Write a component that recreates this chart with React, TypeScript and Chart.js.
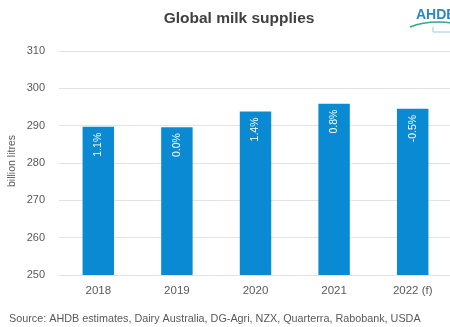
import React, { useEffect, useRef } from "react";
import { Chart, registerables } from "chart.js";

Chart.register(...registerables);

const categories = ["2018", "2019", "2020", "2021", "2022 (f)"];
const supplies = [289.7, 289.6, 293.8, 295.9, 294.5];
const growthLabels = ["1.1%", "0.0%", "1.4%", "0.8%", "-0.5%"];
const yTicks = [250, 260, 270, 280, 290, 300, 310];
const titleText = "Global milk supplies";
const yTitle = "billion litres";
const sourceText = "Source: AHDB estimates, Dairy Australia, DG-Agri, NZX, Quarterra, Rabobank, USDA";

const FONT = "'Liberation Sans', Arial, sans-serif";

const decorPlugin = {
  id: "decor",
  afterDraw(chart: any) {
    const ctx = chart.ctx;
    ctx.save();
    // title
    ctx.fillStyle = "#404040";
    ctx.font = `bold 15.5px ${FONT}`;
    ctx.textAlign = "center";
    ctx.textBaseline = "middle";
    ctx.fillText(titleText, 239, 19);

    // logo
    ctx.fillStyle = "#2f86c6";
    ctx.font = `bold 14px ${FONT}`;
    ctx.textAlign = "left";
    ctx.fillText("AHDB", 416, 15);
    ctx.strokeStyle = "#3aa58a";
    ctx.lineWidth = 1.5;
    ctx.beginPath();
    ctx.moveTo(410, 27);
    ctx.quadraticCurveTo(428, 20, 452, 23);
    ctx.stroke();
    ctx.strokeStyle = "#9cc9e8";
    ctx.lineWidth = 1;
    ctx.beginPath();
    ctx.moveTo(433, 27);
    ctx.lineTo(433, 32);
    ctx.lineTo(452, 32);
    ctx.stroke();

    // y title
    const area = chart.chartArea;
    ctx.save();
    ctx.translate(12, 161);
    ctx.rotate(-Math.PI / 2);
    ctx.fillStyle = "#595959";
    ctx.font = `10.5px ${FONT}`;
    ctx.textAlign = "center";
    ctx.textBaseline = "middle";
    ctx.fillText(yTitle, 0, 0);
    ctx.restore();

    // bar labels
    const meta = chart.getDatasetMeta(0);
    meta.data.forEach((bar: any, i: number) => {
      ctx.save();
      ctx.translate(bar.x, bar.y + 6);
      ctx.rotate(-Math.PI / 2);
      ctx.fillStyle = "#ffffff";
      ctx.font = `10.5px ${FONT}`;
      ctx.textAlign = "right";
      ctx.textBaseline = "middle";
      ctx.fillText(growthLabels[i], 0, 0);
      ctx.restore();
    });

    // source
    ctx.fillStyle = "#595959";
    ctx.font = `10.8px ${FONT}`;
    ctx.textAlign = "left";
    ctx.textBaseline = "middle";
    ctx.fillText(sourceText, 9, 319);
    ctx.restore();
  },
};

export default function App() {
  const ref = useRef<HTMLCanvasElement>(null);
  useEffect(() => {
    if (!ref.current) return;
    const chart = new Chart(ref.current, {
      type: "bar",
      data: {
        labels: categories,
        datasets: [
          {
            data: supplies,
            backgroundColor: "#0a8ad2",
            barPercentage: 0.4,
            categoryPercentage: 1,
          },
        ],
      },
      options: {
        animation: false,
        responsive: false,
        maintainAspectRatio: false,
        layout: { padding: { top: 51, bottom: 0, left: 0, right: 0 } },
        plugins: { legend: { display: false }, tooltip: { enabled: false } },
        scales: {
          x: {
            grid: { display: false, drawTicks: false },
            border: { display: false },
            ticks: {
              color: "#595959",
              font: { family: FONT, size: 11.5 },
              padding: 9,
              maxRotation: 0,
            },
            afterFit: (s: any) => {
              s.height = 52;
            },
          },
          y: {
            min: 250,
            max: 310,
            afterBuildTicks: (s: any) => {
              s.ticks = yTicks.map((v) => ({ value: v }));
            },
            grid: { color: "#e3e3e3", drawTicks: false },
            border: { display: false },
            ticks: {
              color: "#595959",
              font: { family: FONT, size: 11 },
              padding: 14,
            },
            afterFit: (s: any) => {
              s.width = 59;
            },
          },
        },
      },
      plugins: [decorPlugin],
    });
    return () => chart.destroy();
  }, []);
  return (
    <div
      style={{
        position: "fixed",
        left: 0,
        top: 0,
        width: 450,
        height: 327,
        overflow: "hidden",
        background: "#fff",
      }}
    >
      <canvas ref={ref} width={452} height={327} style={{ width: 452, height: 327, display: "block" }} />
    </div>
  );
}
